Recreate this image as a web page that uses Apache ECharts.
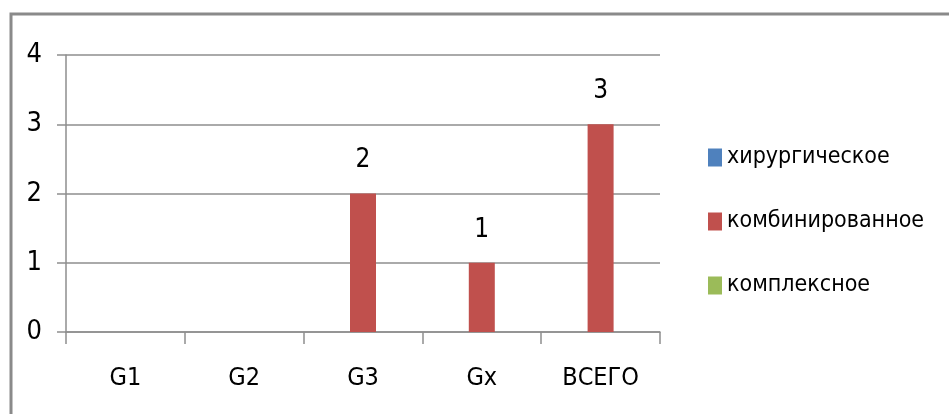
<!DOCTYPE html>
<html>
<head>
<meta charset="utf-8">
<script src="https://cdn.jsdelivr.net/npm/echarts@6/dist/echarts.min.js"></script>
<style>
html,body{margin:0;padding:0;background:#fff;}
#chart{width:949px;height:414px;}
</style>
</head>
<body>
<div id="chart"></div>
<script>
const categories = ['G1', 'G2', 'G3', 'Gx', 'ВСЕГО'];
const seriesNames = ['хирургическое', 'комбинированное', 'комплексное'];
const surgical = [0, 0, 0, 0, 0];
const combined = [0, 0, 2, 1, 3];
const complex = [0, 0, 0, 0, 0];
const yTicks = [0, 1, 2, 3, 4];

const FONT = '"Liberation Sans Narrow", "DejaVu Sans Condensed", "Liberation Sans", sans-serif';
const colors = ['#4F81BD', '#C0504D', '#9BBB59'];
const gray = '#8e8e8e';

const chart = echarts.init(document.getElementById('chart'));
const labelCfg = {
  show: true,
  position: 'top',
  distance: 20,
  color: '#000',
  fontFamily: FONT,
  fontSize: 26,
  formatter: p => (p.value ? String(p.value) : '')
};
chart.setOption({
  animation: false,
  color: colors,
  textStyle: { fontFamily: FONT },
  graphic: [{
    type: 'rect',
    shape: { x: 11, y: 14, width: 1000, height: 500 },
    style: { fill: 'none', stroke: '#8a8a8a', lineWidth: 3 },
    silent: true
  }],
  grid: { left: 66, right: 289, top: 55, bottom: 82 },
  legend: {
    orient: 'vertical',
    left: 703,
    top: 141,
    itemWidth: 14,
    itemHeight: 18,
    itemGap: 41,
    itemStyle: { borderWidth: 0 },
    icon: 'rect',
    textStyle: { fontFamily: FONT, fontSize: 23, color: '#000' },
    data: seriesNames
  },
  xAxis: {
    type: 'category',
    data: categories,
    boundaryGap: true,
    axisLine: { show: true, lineStyle: { color: gray, width: 1.5 } },
    axisTick: { show: true, length: 12, lineStyle: { color: gray, width: 1.5 } },
    axisLabel: { color: '#000', fontFamily: FONT, fontSize: 25, margin: 34 }
  },
  yAxis: {
    type: 'value',
    min: yTicks[0],
    max: yTicks[yTicks.length - 1],
    interval: 1,
    axisLine: { show: true, lineStyle: { color: gray, width: 1.5 } },
    axisTick: { show: true, length: 9, lineStyle: { color: gray, width: 1.5 } },
    axisLabel: { color: '#000', fontFamily: FONT, fontSize: 27, margin: 24 },
    splitLine: { show: true, lineStyle: { color: gray, width: 1.5 } }
  },
  series: [
    { name: seriesNames[0], type: 'bar', data: surgical, barWidth: 26, barGap: '0%', label: labelCfg },
    { name: seriesNames[1], type: 'bar', data: combined, barWidth: 26, barGap: '0%', label: labelCfg },
    { name: seriesNames[2], type: 'bar', data: complex, barWidth: 26, barGap: '0%', label: labelCfg }
  ]
});
</script>
</body>
</html>
